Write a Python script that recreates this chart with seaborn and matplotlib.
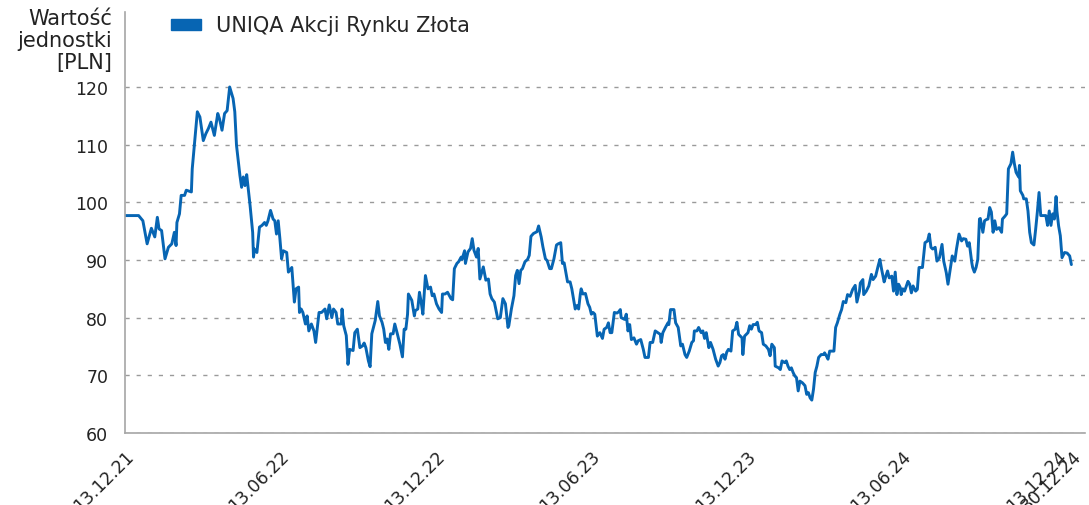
import pandas as pd
import numpy as np
import matplotlib.pyplot as plt
import matplotlib.transforms as mtransforms
from matplotlib.patches import Patch
import seaborn as sns

# Data
start_date = pd.Timestamp('2021-12-13')
series_name = 'UNIQA Akcji Rynku Złota'

# days since 13.12.21
day_offsets = [
    0, 16, 21, 26, 31, 35, 38, 40, 43, 47, 51, 55, 58, 60, 61, 64, 66, 70, 72, 78,
    79, 82, 85, 88, 92, 95, 98, 101, 105, 109, 111, 114, 117, 120, 123, 127, 129, 131, 135, 137,
    139, 141, 143, 147, 150, 151, 152, 155, 158, 161, 164, 166, 168, 171, 174, 176, 178, 180, 182, 184,
    186, 190, 192, 196, 197, 199, 201, 204, 205, 207, 209, 212, 214, 216, 219, 222, 224, 228, 231, 235,
    237, 240, 243, 245, 248, 250, 254, 255, 257, 260, 262, 264, 268, 270, 273,
    276, 279, 281, 283, 286, 288, 290, 294, 296, 297, 299, 302, 304, 306, 308, 310, 312, 315, 317, 320,
    323, 326, 328, 330, 332, 333, 337, 340, 341, 344, 346, 348, 350, 353, 356, 359, 361, 363, 366, 369,
    372, 373, 376, 379, 383, 385, 387, 390, 392, 395, 396, 399, 400, 403, 406, 408, 410, 413, 415, 417,
    421, 424, 427, 429, 431, 434, 438, 441, 444, 447, 450, 451, 454, 457, 459, 461, 463, 465, 467, 470,
    473, 475, 477, 480, 484, 486, 489, 491, 494, 496, 499, 501, 504, 507, 509, 512, 514, 516, 520, 523,
    525, 529, 531, 533, 535, 536, 538, 541, 544, 546, 548, 550, 552,
    555, 558, 561, 563, 566, 568, 570, 572, 575, 578, 580, 582, 583, 587, 589, 591, 593, 595, 598, 601,
    603, 606, 609, 611, 615, 617, 620, 623, 626, 629, 630, 632, 635, 638, 639, 641, 645, 647, 650, 653,
    655, 658, 660, 663, 666, 668, 669, 672, 674, 677, 679, 681, 683, 686, 688, 691, 694, 697, 699, 701,
    703, 705, 707, 709, 712, 714, 717, 719, 721, 725, 726, 728, 732, 734, 736, 738, 741, 743, 745, 748,
    750, 753, 756, 758, 760, 763, 764, 768, 770, 772, 775, 777, 779, 781, 783, 785, 787, 789, 791, 793,
    796, 799, 801, 803, 805, 807, 809, 811, 813, 815, 818, 821, 822, 824, 826, 828, 831, 833, 835, 837,
    840,
    842, 844, 847, 849, 852, 855, 858, 860, 863, 864, 867, 868, 871, 874, 877, 879, 882, 885, 887, 889,
    892, 894, 896, 898, 901, 903, 905, 907, 909, 911, 912, 914, 916, 920, 922, 924, 926, 929, 931, 933,
    937, 940, 943, 945, 947, 949, 952, 954, 957, 960, 962, 965, 967, 970, 972, 975, 977, 980, 983, 985,
    988, 990, 992, 995, 996, 998, 1000, 1002, 1004, 1005, 1008, 1010, 1012, 1014, 1016, 1018, 1020, 1022, 1024, 1027,
    1030, 1031, 1034, 1036, 1038, 1041, 1043, 1045, 1047, 1050, 1051, 1052, 1055, 1056, 1059, 1061, 1063, 1065, 1068, 1070,
    1072, 1074, 1076, 1079, 1082, 1084, 1086, 1088, 1090, 1092, 1094, 1095, 1097, 1099, 1101, 1103, 1104, 1107, 1110, 1112,
]

unit_values = [
    97.7, 97.7, 96.8, 92.8, 95.5, 94.0, 97.4, 95.4, 95.1, 90.2, 92.2, 92.8, 94.8, 92.5, 96.5, 98.0, 101.2, 101.2, 102.1, 101.8,
    105.8, 110.7, 115.7, 114.8, 110.7, 111.9, 112.8, 113.9, 111.6, 115.4, 114.5, 112.5, 115.4, 115.9, 120.0, 118.0, 115.7, 109.9, 104.7, 102.6,
    104.4, 102.9, 104.8, 99.4, 94.8, 90.5, 91.9, 91.3, 95.7, 96.0, 96.5, 96.0, 96.8, 98.6, 97.1, 96.8, 94.5, 96.8, 93.7, 90.2,
    91.6, 91.3, 87.9, 88.7, 86.7, 82.7, 85.0, 85.3, 80.9, 81.5, 80.9, 78.9, 80.3, 77.7, 78.9, 77.7, 75.7, 80.9, 80.9, 81.5,
    79.8, 82.2, 80.0, 81.5, 80.9, 78.9, 78.9, 81.5, 78.6, 76.9, 71.9, 74.5, 74.3, 77.4, 78.0,
    74.8, 75.1, 75.6, 74.8, 72.5, 71.5, 77.2, 79.5, 81.8, 82.8, 80.3, 79.2, 78.0, 75.7, 76.3, 74.5, 77.2, 77.2, 78.9, 77.2,
    75.4, 73.2, 78.0, 78.0, 80.6, 84.1, 83.0, 80.3, 81.2, 81.5, 84.4, 82.7, 80.6, 87.3, 85.0, 85.3, 83.8, 84.1, 82.4, 81.5,
    80.9, 84.1, 84.1, 84.4, 83.3, 83.1, 88.5, 89.4, 89.7, 90.5, 90.1, 91.6, 89.4, 91.4, 92.0, 93.7, 91.7, 90.5, 92.0, 86.7,
    88.8, 86.5, 86.7, 84.1, 83.3, 82.7, 79.8, 80.0, 83.3, 82.4, 78.3, 78.6, 81.5, 83.8, 87.3, 88.2, 85.9, 88.2, 88.5, 89.7,
    90.1, 90.8, 94.1, 94.6, 94.9, 95.9, 94.0, 92.3, 90.2, 89.9, 88.5, 88.5, 90.2, 92.6, 92.8, 93.0, 89.4, 89.5, 86.2, 86.2,
    85.0, 81.5, 82.1, 81.5, 84.1, 85.0, 84.1, 84.2, 82.4, 81.8, 80.6, 80.9, 80.6,
    76.8, 77.4, 76.4, 78.0, 78.3, 79.1, 77.4, 77.4, 80.9, 80.8, 81.0, 81.4, 80.0, 79.7, 80.6, 77.7, 78.8, 76.2, 76.5, 75.4,
    76.0, 76.2, 74.5, 73.1, 73.1, 75.7, 75.7, 77.7, 77.4, 77.1, 75.7, 77.4, 78.3, 79.1, 78.8, 81.4, 81.4, 79.1, 78.3, 75.1,
    75.4, 73.6, 73.1, 74.2, 75.7, 76.0, 77.7, 77.7, 78.3, 77.4, 77.7, 76.4, 77.4, 74.8, 75.7, 74.5, 72.8, 71.6, 72.2, 73.4,
    73.6, 72.8, 74.0, 74.5, 74.2, 77.7, 78.0, 79.2, 77.1, 76.5, 73.6, 76.8, 77.4, 78.6, 78.0, 78.8, 78.8, 79.2, 77.7, 77.4,
    75.4, 75.1, 74.5, 73.4, 75.4, 74.8, 71.6, 71.3, 71.0, 72.5, 72.2, 72.5, 71.6, 71.0, 71.3, 70.5, 69.9, 69.6, 67.3, 69.0,
    68.7, 68.2, 66.7, 67.0, 66.1, 65.7, 67.6, 70.5, 71.6, 73.1, 73.6, 73.6, 73.9, 73.4, 72.8, 74.2, 74.2, 74.2, 78.3, 79.1,
    80.6,
    81.4, 82.8, 82.6, 84.0, 83.7, 84.9, 85.6, 82.7, 84.6, 86.0, 86.6, 84.0, 84.6, 85.5, 87.5, 86.6, 87.2, 89.0, 90.1, 88.4,
    86.2, 87.2, 88.1, 86.9, 87.2, 84.6, 87.9, 84.0, 85.8, 85.2, 84.0, 85.0, 84.6, 86.3, 85.8, 84.3, 85.5, 84.6, 84.9, 88.7,
    88.7, 93.0, 93.3, 94.5, 92.2, 91.9, 92.2, 89.8, 90.4, 92.7, 89.8, 87.8, 85.8, 88.7, 90.7, 89.8, 91.9, 94.5, 93.3, 93.7,
    93.6, 92.4, 93.0, 89.5, 88.7, 87.9, 88.7, 90.1, 97.1, 97.2, 94.8, 96.8, 97.0, 97.1, 99.1, 98.3, 94.8, 96.8, 95.3, 95.6,
    94.8, 97.1, 97.6, 98.0, 105.8, 106.7, 108.7, 106.7, 105.2, 104.4, 106.4, 102.0, 101.2, 100.6, 100.6, 98.5, 94.8, 93.0, 92.6, 95.3,
    98.3, 101.7, 97.7, 97.7, 97.7, 96.0, 98.5, 96.0, 98.0, 97.1, 101.0, 98.5, 95.9, 94.2, 90.4, 91.0, 91.3, 91.2, 90.7, 89.2,
]

tick_dates = ['2021-12-13', '2022-06-13', '2022-12-13', '2023-06-13',
              '2023-12-13', '2024-06-13', '2024-12-13', '2024-12-30']
y_ticks = [60, 70, 80, 90, 100, 110, 120]

df = pd.DataFrame({
    'Data': start_date + pd.to_timedelta(day_offsets, unit='D'),
    'Wartosc': unit_values,
})

line_color = '#0765b3'
axis_color = '#a6a6a6'
text_color = '#222222'

sns.set_style('white')
plt.rcParams['font.family'] = ['DejaVu Sans']

fig = plt.figure(figsize=(10.89, 5.06), dpi=100)
ax = fig.add_axes([125 / 1089, 1 - 434 / 506, 960 / 1089, 421 / 506])

sns.lineplot(data=df, x='Data', y='Wartosc', ax=ax, color=line_color, linewidth=2.1)

ax.set_xlim(start_date, start_date + pd.Timedelta(days=1128))
ax.set_ylim(60, 133)
ax.set_yticks(y_ticks)
ax.set_yticklabels([str(v) for v in y_ticks], fontsize=12.5, color=text_color)
ax.yaxis.grid(True, linestyle=(0, (3, 5)), color='#9a9a9a', linewidth=1)
ax.set_axisbelow(True)
ax.set_xlabel('')
ax.set_ylabel('')

ticks = pd.to_datetime(tick_dates)
ax.set_xticks(ticks)
ax.set_xticklabels([t.strftime('%d.%m.%y') for t in ticks], rotation=45,
                   ha='right', va='top', rotation_mode='anchor', fontsize=12.5, color=text_color)
offset = mtransforms.ScaledTranslation(15 / 100, 0, fig.dpi_scale_trans)
for lab in ax.get_xticklabels():
    lab.set_transform(lab.get_transform() + offset)

ax.tick_params(axis='x', length=6, width=1.2, color=axis_color, pad=4)
ax.tick_params(axis='y', length=0, pad=12)

for side in ['top', 'right']:
    ax.spines[side].set_visible(False)
for side in ['left', 'bottom']:
    ax.spines[side].set_color(axis_color)
    ax.spines[side].set_linewidth(1.2)

fig.text(112 / 1089, 1 - 9 / 506, 'Wartość\njednostki\n[PLN]', ha='right', va='top',
         fontsize=15, color=text_color, linespacing=1.12)

ax.legend(handles=[Patch(color=line_color, label=series_name)],
          loc='center left', bbox_to_anchor=(171 / 1089, 1 - 26.5 / 506),
          bbox_transform=fig.transFigure, frameon=False, fontsize=15,
          handlelength=1.44, handleheight=0.43, handletextpad=0.72,
          borderpad=0, borderaxespad=0)

fig.savefig('out.png', dpi=100)
